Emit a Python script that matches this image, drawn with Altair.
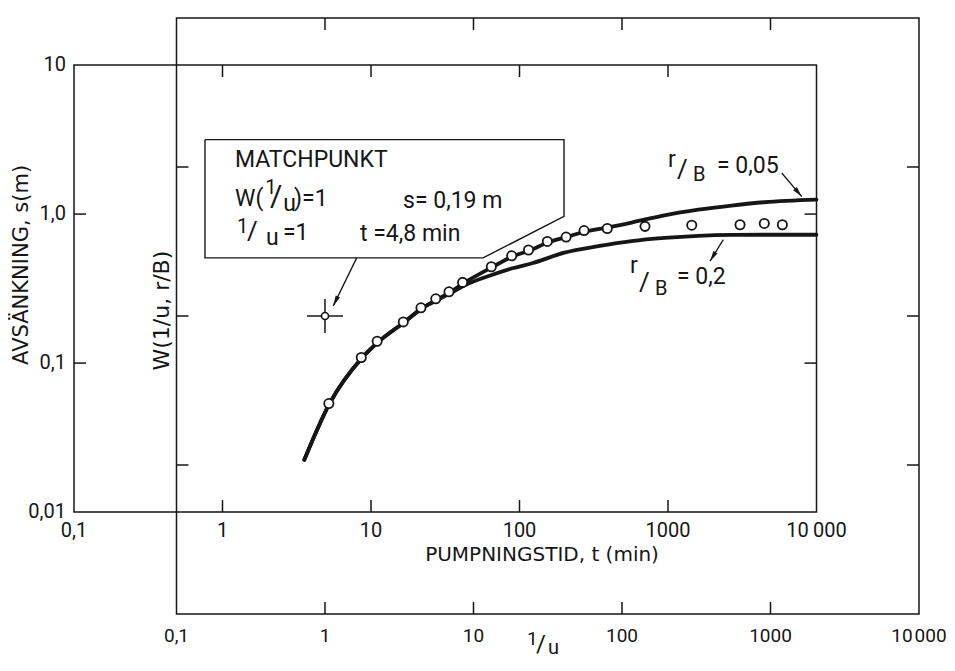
import math
import altair as alt
import pandas as pd

INK = "#161616"
FONT = "Roboto"
TITLE_FONT = "DejaVu Sans"

# ---- match point: the W(1/u)-frame is laid over the s(t)-frame
T0 = 4.9      # t (min) that falls on 1/u = 1 in the drawing
S0 = 0.207    # s (m) that falls on W = 1 in the drawing

# ---- observed drawdown (inner frame: t in min, s in m)
obs_t = [5.2, 8.6, 11.0, 16.5, 21.7, 27.3, 33.5, 41.4, 64.6, 88.6, 115, 154, 206, 272, 390, 700, 1445, 3055, 4450, 5890]
obs_s = [0.0535, 0.109, 0.140, 0.189, 0.235, 0.270, 0.301, 0.348, 0.443, 0.525, 0.574, 0.655, 0.701, 0.775, 0.80, 0.827, 0.842, 0.848, 0.865, 0.848]

# ---- type curves (outer frame: 1/u, W)
u_005 = [0.726, 1.07, 1.78, 2.29, 3.42, 4.52, 5.71, 6.98, 8.67, 13.4, 18.5, 24.1, 31.9, 42.8, 56.6, 80.9, 116, 193, 326, 545, 908, 2040]
W_005 = [0.1085, 0.257, 0.525, 0.670, 0.909, 1.13, 1.29, 1.45, 1.67, 2.13, 2.52, 2.76, 3.13, 3.40, 3.69, 3.94, 4.24, 4.74, 5.17, 5.51, 5.80, 6.04]
u_02 = [0.726, 1.07, 1.78, 2.29, 3.42, 4.52, 5.71, 6.98, 8.67, 13.4, 18.3, 24.5, 40.9, 69.2, 116, 193, 326, 545, 908, 2040]
W_02 = [0.1085, 0.257, 0.525, 0.670, 0.909, 1.13, 1.28, 1.42, 1.60, 1.89, 2.09, 2.25, 2.66, 2.94, 3.18, 3.34, 3.45, 3.50, 3.51, 3.51]

# ---- axes
inner_t_ticks = [1, 10, 100, 1000]
inner_s_ticks = [0.1, 1]
inner_t_lab_v = [0.1, 1, 10, 100, 1000, 10000]
inner_t_lab = ["0,1", "1", "10", "100", "1000", "10\u2009000"]
inner_s_lab_v = [10, 1, 0.1, 0.01]
inner_s_lab = ["10", "1,0", "0,1", "0,01"]
outer_u_ticks = [1, 10, 100, 1000]
outer_W_ticks = [0.1, 1, 10]
outer_u_lab_v = [0.1, 1, 10, 100, 1000, 10000]
outer_u_lab = ["0,1", "1", "10", "100", "1000", "10\u200a000"]

# ---- annotation box (t, s corners)
box_t = [0.762, 199.4, 199.4, 56.8, 0.762, 0.762]
box_s = [3.16, 3.16, 0.965, 0.508, 0.508, 3.16]

# ---- arrows (t, s)
arr_t1 = [8.01, 5832, 2357]
arr_s1 = [0.508, 1.887, 0.674]
arr_t2 = [5.57, 7951, 1918]
arr_s2 = [0.242, 1.31, 0.483]

# ---- text pieces (left-aligned, anchored in t, s)
piece_text = ["MATCHPUNKT",
              "W(", "1", "/", "u", ")=1", "s= 0,19 m",
              "1", "/", "u", "=1", "t =4,8 min",
              "r", "/", "B", "= 0,05",
              "r", "/", "B", "= 0,2",
              "1", "/", "u"]
piece_t = [1.214,
           1.214, 1.94, 2.09, 2.56, 3.03, 16.43,
           1.252, 1.462, 1.963, 2.555, 8.43,
           1000, 1150, 1474, 2138,
           555, 638, 818, 1150,
           112.3, 129.2, 155.6]
piece_s = [2.064,
           1.137, 1.368, 1.132, 1.044, 1.126, 1.102,
           0.752, 0.674, 0.622, 0.667, 0.657,
           2.08, 1.752, 1.660, 1.890,
           0.401, 0.303, 0.287, 0.342,
           0.00128, 0.00115, 0.00112]
piece_size = [23,
              23, 20, 30, 23, 23, 23,
              20, 26, 23, 23, 23,
              23, 26, 20, 23,
              23, 26, 20, 23,
              19, 24, 20]

# ---- axis titles
title_text = ["PUMPNINGSTID, t (min)", "AVSÄNKNING, s(m)", "W(1/u, r/B)"]
title_t = [141.8, 0.0447, 0.391]
title_s = [0.00469, 0.456, 0.225]
title_size = [20, 21, 22]

# ================= geometry =================
PX_X = 148.5
PX_Y = 149.0
XDOM = [0.1, 10000 * T0]
YDOM = [0.01 * S0, 100 * S0]
WIDTH = round(PX_X * math.log10(XDOM[1] / XDOM[0]))
HEIGHT = round(PX_Y * math.log10(YDOM[1] / YDOM[0]))

xs = alt.Scale(type="log", domain=XDOM)
ys = alt.Scale(type="log", domain=YDOM)


def X(f):
    return alt.X(f, type="quantitative", scale=xs, axis=None)


def Y(f):
    return alt.Y(f, type="quantitative", scale=ys, axis=None)


# frames
frame_df = pd.DataFrame({"t1": [0.1, 0.1 * T0], "t2": [10000, 10000 * T0],
                         "s1": [0.01, 0.01 * S0], "s2": [10, 100 * S0]})
frames = alt.Chart(frame_df).mark_rect(filled=False, stroke=INK, strokeWidth=1.5).encode(
    x=X("t1"), x2="t2", y=Y("s1"), y2="s2")

# ticks (pointing inward, 12 px)
fx = 10 ** (12 / PX_X)
fy = 10 ** (12 / PX_Y)
rows = []
for v in inner_t_ticks:
    rows += [(v, 0.01, v, 0.01 * fy), (v, 10, v, 10 / fy)]
for v in inner_s_ticks:
    rows += [(0.1, v, 0.1 * fx, v), (10000, v, 10000 / fx, v)]
for v in outer_u_ticks:
    t = v * T0
    rows += [(t, 0.01 * S0, t, 0.01 * S0 * fy), (t, 100 * S0, t, 100 * S0 / fy)]
for v in outer_W_ticks:
    s = v * S0
    rows += [(0.1 * T0, s, 0.1 * T0 * fx, s), (10000 * T0, s, 10000 * T0 / fx, s)]
tick_df = pd.DataFrame(rows, columns=["x1", "y1", "x2", "y2"])
ticks = alt.Chart(tick_df).mark_rule(color=INK, strokeWidth=1.5).encode(
    x=X("x1"), y=Y("y1"), x2="x2", y2="y2")

# tick labels
lab_left = alt.Chart(pd.DataFrame({"s": inner_s_lab_v, "lab": inner_s_lab})).transform_calculate(
    t="0.1").mark_text(align="right", baseline="middle", dx=-8, font=FONT, fontSize=20, color=INK).encode(
    x=X("t"), y=Y("s"), text="lab:N")
lab_inner_b = alt.Chart(pd.DataFrame({"t": inner_t_lab_v, "lab": inner_t_lab})).transform_calculate(
    s="0.01").mark_text(align="center", baseline="top", dy=9, font=FONT, fontSize=20, color=INK).encode(
    x=X("t"), y=Y("s"), text="lab:N")
lab_outer_b = alt.Chart(pd.DataFrame({"u": outer_u_lab_v, "lab": outer_u_lab})).transform_calculate(
    t=f"datum.u * {T0}", s=f"0.01 * {S0}").mark_text(
    align="center", baseline="top", dy=13, font=FONT, fontSize=19, color=INK).encode(
    x=X("t"), y=Y("s"), text="lab:N")

# type curves
cdf = pd.concat([
    pd.DataFrame({"u": u_005, "W": W_005, "rB": "0,05"}),
    pd.DataFrame({"u": u_02, "W": W_02, "rB": "0,2"}),
])
curves = alt.Chart(cdf).transform_calculate(
    t=f"datum.u * {T0}", s=f"datum.W * {S0}").mark_line(
    color=INK, strokeWidth=3.8, interpolate="monotone", strokeCap="round").encode(
    x=X("t"), y=Y("s"), detail="rB:N")

# match point cross
hx = 10 ** (18 / PX_X)
hy = 10 ** (17 / PX_Y)
cross_df = pd.DataFrame({"x1": [T0 / hx, T0], "x2": [T0 * hx, T0],
                         "y1": [S0, S0 / hy], "y2": [S0, S0 * hy]})
cross = alt.Chart(cross_df).mark_rule(color=INK, strokeWidth=1.5).encode(
    x=X("x1"), y=Y("y1"), x2="x2", y2="y2")
cross_pt = alt.Chart(pd.DataFrame({"t": [T0], "s": [S0]})).mark_point(
    shape="circle", filled=True, fill="white", stroke=INK, strokeWidth=1.6, size=50, opacity=1).encode(
    x=X("t"), y=Y("s"))

# observations
obs = alt.Chart(pd.DataFrame({"t": obs_t, "s": obs_s})).mark_point(
    shape="circle", filled=True, fill="white", stroke=INK, strokeWidth=1.8, size=85, opacity=1).encode(
    x=X("t"), y=Y("s"))

# annotation box
box = alt.Chart(pd.DataFrame({"t": box_t, "s": box_s, "i": list(range(len(box_t)))})).mark_line(
    color=INK, strokeWidth=1.4).encode(x=X("t"), y=Y("s"), order="i:Q")

# arrows
angs = []
for a, b, c, d in zip(arr_t1, arr_s1, arr_t2, arr_s2):
    dx = PX_X * math.log10(c / a)
    dy = -PX_Y * math.log10(d / b)
    angs.append(math.degrees(math.atan2(dx, -dy)) % 360)
arr_df = pd.DataFrame({"t1": arr_t1, "s1": arr_s1, "t2": arr_t2, "s2": arr_s2, "ang": angs})
arr_lines = alt.Chart(arr_df).mark_rule(color=INK, strokeWidth=1.3).encode(
    x=X("t1"), y=Y("s1"), x2="t2", y2="s2")
arr_heads = alt.Chart(arr_df).mark_point(
    shape="M0,0L-0.6,2.6L0.6,2.6Z", filled=True, color=INK, size=64, opacity=1).encode(
    x=X("t2"), y=Y("s2"), angle=alt.Angle("ang:Q", scale=None))

# text pieces
pieces = alt.Chart(pd.DataFrame({"txt": piece_text, "t": piece_t, "s": piece_s, "fs": piece_size})).mark_text(
    align="left", baseline="alphabetic", font=FONT, color=INK).encode(
    x=X("t"), y=Y("s"), text="txt:N", size=alt.Size("fs:Q", scale=None))

tdf = pd.DataFrame({"txt": title_text, "t": title_t, "s": title_s, "fs": title_size})
title_h = alt.Chart(tdf.iloc[[0]]).mark_text(
    align="center", baseline="alphabetic", font=TITLE_FONT, color=INK).encode(
    x=X("t"), y=Y("s"), text="txt:N", size=alt.Size("fs:Q", scale=None))
title_v = alt.Chart(tdf.iloc[[1, 2]]).mark_text(
    align="center", baseline="middle", font=TITLE_FONT, color=INK, angle=270).encode(
    x=X("t"), y=Y("s"), text="txt:N", size=alt.Size("fs:Q", scale=None))

chart = alt.layer(
    frames, ticks, lab_left, lab_inner_b, lab_outer_b,
    box, curves, obs, cross, cross_pt, arr_lines, arr_heads,
    pieces, title_h, title_v,
).properties(
    width=WIDTH, height=HEIGHT,
    autosize=alt.AutoSizeParams(type="none"),
    padding={"left": 66, "top": 10, "right": 28, "bottom": 48},
    background="white",
).configure_view(stroke=None)

chart.save("out.html", embed_options={"renderer": "svg", "actions": False})
